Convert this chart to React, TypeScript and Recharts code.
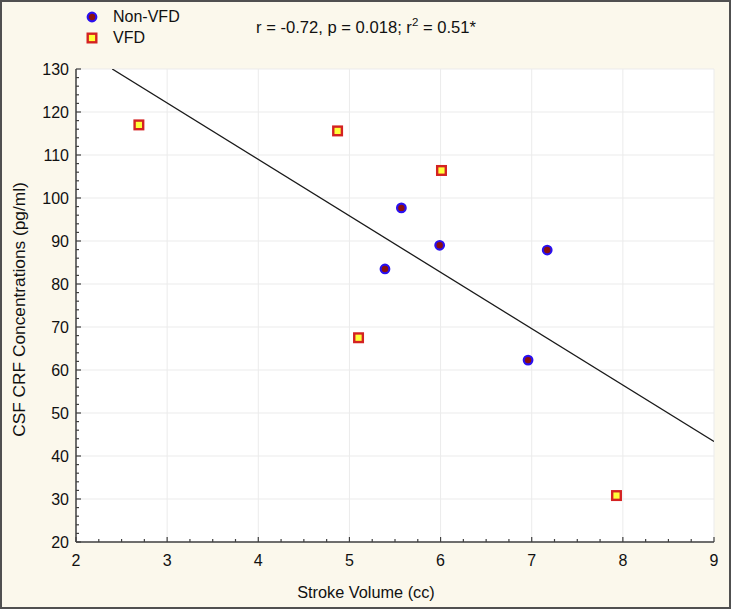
import React from "react";
import { ScatterChart, Scatter, XAxis, YAxis, CartesianGrid, ReferenceLine } from "recharts";

// stroke volume (cc) and CSF CRF (pg/ml)
const nonVfdVolume = [5.57, 5.39, 5.99, 7.17, 6.96];
const nonVfdCrf = [97.7, 83.5, 89.0, 87.9, 62.3];
const vfdVolume = [2.69, 4.87, 6.01, 5.1, 7.93];
const vfdCrf = [117.0, 115.6, 106.4, 67.5, 30.8];

const xTicks = [2, 3, 4, 5, 6, 7, 8, 9];
const yTicks = [20, 30, 40, 50, 60, 70, 80, 90, 100, 110, 120, 130];
const xMinorStep = 0.25;
const yMinorStep = 2;

const legendLabels = ["Non-VFD", "VFD"];
const xTitle = "Stroke Volume (cc)";
const yTitle = "CSF CRF Concentrations (pg/ml)";

const FRAME = "#404040";
const FONT = "'Liberation Sans', Arial, sans-serif";

const nonVfd = nonVfdVolume.map((x, i) => ({ x, y: nonVfdCrf[i] }));
const vfd = vfdVolume.map((x, i) => ({ x, y: vfdCrf[i] }));

const steps = (lo: number, hi: number, step: number) => {
  const out: number[] = [];
  for (let v = lo; v <= hi + 1e-9; v += step) out.push(Math.round(v * 100) / 100);
  return out;
};
const xAll = steps(xTicks[0], xTicks[xTicks.length - 1], xMinorStep);
const yAll = steps(yTicks[0], yTicks[yTicks.length - 1], yMinorStep);
const isMajor = (v: number, list: number[]) => list.some((t) => Math.abs(t - v) < 1e-6);

// least-squares fit over all ten subjects
const all = [...nonVfd, ...vfd];
const mx = all.reduce((s, p) => s + p.x, 0) / all.length;
const my = all.reduce((s, p) => s + p.y, 0) / all.length;
const slope =
  all.reduce((s, p) => s + (p.x - mx) * (p.y - my), 0) /
  all.reduce((s, p) => s + (p.x - mx) ** 2, 0);
const intercept = my - slope * mx;
const yMax = yTicks[yTicks.length - 1];
const xMax = xTicks[xTicks.length - 1];
const fitStart = { x: (yMax - intercept) / slope, y: yMax };
const fitEnd = { x: xMax, y: intercept + slope * xMax };

const BottomTick = (props: any) => {
  const { x, y, payload } = props;
  const major = isMajor(payload.value, xTicks);
  return (
    <g>
      <line x1={x} x2={x} y1={y} y2={y - (major ? 5 : 3)} stroke={FRAME} strokeWidth={1.2} />
      {major && (
        <text x={x} y={y + 24} textAnchor="middle" fontSize={16} fill="#111" fontFamily={FONT}>
          {payload.value}
        </text>
      )}
    </g>
  );
};

const TopTick = (props: any) => {
  const { x, y, payload } = props;
  const major = isMajor(payload.value, xTicks);
  return <line x1={x} x2={x} y1={y} y2={y + (major ? 5 : 3)} stroke={FRAME} strokeWidth={1.2} />;
};

const LeftTick = (props: any) => {
  const { x, y, payload } = props;
  const major = isMajor(payload.value, yTicks);
  return (
    <g>
      <line x1={x} x2={x + (major ? 5 : 3)} y1={y} y2={y} stroke={FRAME} strokeWidth={1.2} />
      {major && (
        <text x={x - 7} y={y + 6} textAnchor="end" fontSize={16} fill="#111" fontFamily={FONT}>
          {payload.value}
        </text>
      )}
    </g>
  );
};

const RightTick = (props: any) => {
  const { x, y, payload } = props;
  const major = isMajor(payload.value, yTicks);
  return <line x1={x} x2={x - (major ? 5 : 3)} y1={y} y2={y} stroke={FRAME} strokeWidth={1.2} />;
};

const Dot = (props: any) => (
  <circle cx={props.cx} cy={props.cy} r={4.3} fill="#8a1010" stroke="#2a10f0" strokeWidth={2.2} />
);

const Box = (props: any) => (
  <rect x={props.cx - 4.3} y={props.cy - 4.3} width={8.6} height={8.6} fill="#ffff3a" stroke="#d42222" strokeWidth={2.4} />
);

export default function App() {
  return (
    <div
      style={{
        position: "absolute",
        left: 0,
        top: 0,
        width: 731,
        height: 609,
        background: "#fbf8ec",
        boxShadow: "inset 0 0 0 2px #505050",
        fontFamily: FONT,
      }}
    >
      {/* legend */}
      <svg width={20} height={50} style={{ position: "absolute", left: 82, top: 6 }}>
        <circle cx={10} cy={11} r={4.3} fill="#8a1010" stroke="#2a10f0" strokeWidth={2.2} />
        <rect x={5.7} y={27.7} width={8.6} height={8.6} fill="#ffff3a" stroke="#d42222" strokeWidth={2.4} />
      </svg>
      <div style={{ position: "absolute", left: 113, top: 7, fontSize: 16, color: "#111", lineHeight: "20px" }}>
        {legendLabels[0]}
      </div>
      <div style={{ position: "absolute", left: 113, top: 28, fontSize: 16, color: "#111", lineHeight: "20px" }}>
        {legendLabels[1]}
      </div>
      <div style={{ position: "absolute", left: 256, top: 18, fontSize: 16.6, color: "#111", lineHeight: "20px" }}>
        r = -0.72, p = 0.018; r<sup style={{ fontSize: 11.5, lineHeight: 0 }}>2</sup> = 0.51*
      </div>

      <ScatterChart width={731} height={609} margin={{ top: 69, right: 17, left: 0, bottom: 0 }}>
        <CartesianGrid
          xAxisId="b"
          yAxisId="l"
          fill="#ffffff"
          stroke="#ebebeb"
          horizontalValues={yTicks}
          verticalValues={xTicks}
        />
        <XAxis
          xAxisId="b"
          dataKey="x"
          type="number"
          orientation="bottom"
          domain={[xTicks[0], xMax]}
          allowDataOverflow
          ticks={xAll}
          interval={0}
          tickLine={false}
          tickSize={0}
          tickMargin={0}
          tick={<BottomTick />}
          height={67}
          axisLine={{ stroke: FRAME, strokeWidth: 1.5 }}
          label={{ value: xTitle, position: "insideBottom", offset: 11, dx: -29, fill: "#111", fontSize: 16.3, fontFamily: FONT }}
        />
        <XAxis
          xAxisId="t"
          type="number"
          orientation="top"
          domain={[xTicks[0], xMax]}
          allowDataOverflow
          ticks={xAll}
          interval={0}
          tickLine={false}
          tickSize={0}
          tickMargin={0}
          tick={<TopTick />}
          height={0}
          axisLine={{ stroke: FRAME, strokeWidth: 1.5 }}
        />
        <YAxis
          yAxisId="l"
          dataKey="y"
          type="number"
          orientation="left"
          domain={[yTicks[0], yMax]}
          allowDataOverflow
          ticks={yAll}
          interval={0}
          tickLine={false}
          tickSize={0}
          tickMargin={0}
          tick={<LeftTick />}
          width={76}
          axisLine={{ stroke: FRAME, strokeWidth: 1.5 }}
          label={{
            value: yTitle,
            angle: -90,
            position: "insideLeft",
            offset: 19,
            dy: 4,
            fill: "#111",
            fontSize: 17.3,
            fontFamily: FONT,
            style: { textAnchor: "middle" },
          }}
        />
        <YAxis
          yAxisId="r"
          type="number"
          orientation="right"
          domain={[yTicks[0], yMax]}
          allowDataOverflow
          ticks={yAll}
          interval={0}
          tickLine={false}
          tickSize={0}
          tickMargin={0}
          tick={<RightTick />}
          width={0}
          axisLine={{ stroke: FRAME, strokeWidth: 1.5 }}
        />
        <ReferenceLine
          xAxisId="b"
          yAxisId="l"
          segment={[fitStart, fitEnd]}
          stroke="#1a1a1a"
          strokeWidth={1.3}
          ifOverflow="hidden"
        />
        <Scatter xAxisId="b" yAxisId="l" name={legendLabels[0]} data={nonVfd} shape={<Dot />} isAnimationActive={false} />
        <Scatter xAxisId="b" yAxisId="l" name={legendLabels[1]} data={vfd} shape={<Box />} isAnimationActive={false} />
      </ScatterChart>
    </div>
  );
}
